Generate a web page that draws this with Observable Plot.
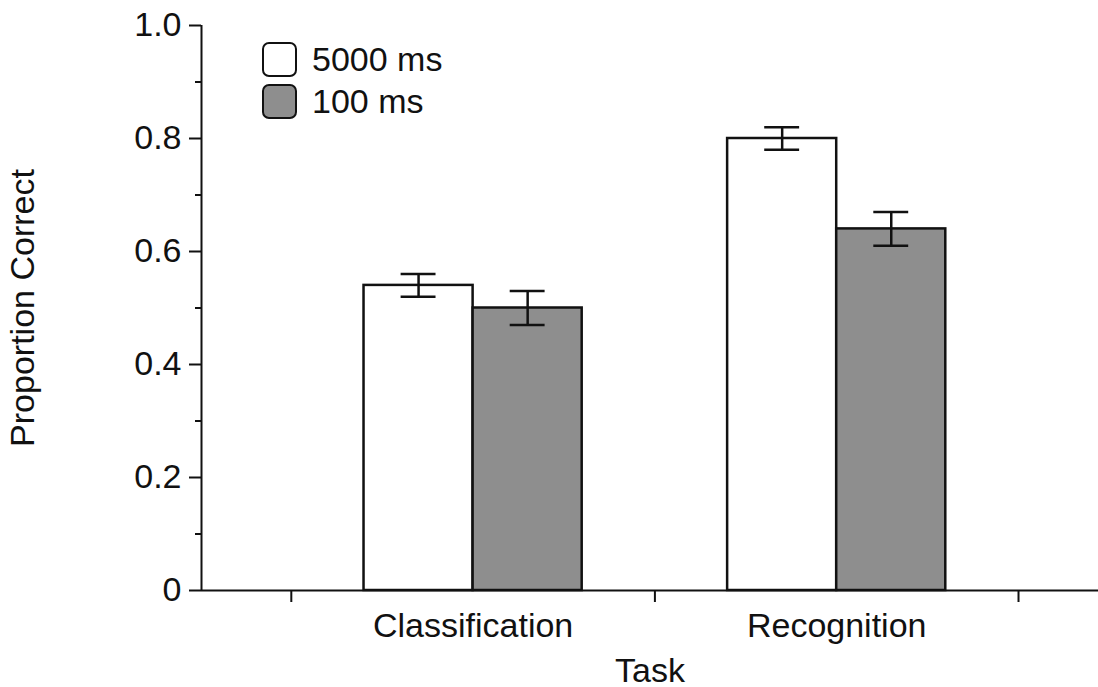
<!DOCTYPE html>
<html>
<head>
<meta charset="utf-8">
<script src="https://cdn.jsdelivr.net/npm/d3@7"></script>
<script src="https://cdn.jsdelivr.net/npm/@observablehq/plot@0.6"></script>
<style>
  html, body { margin: 0; padding: 0; background: #fff; }
  #chart { position: relative; width: 1098px; height: 687px; font-family: "Liberation Sans", Arial, Helvetica, sans-serif; }
  .legend { position: absolute; left: 262px; top: 38px; }
  .legend .item { display: flex; align-items: center; height: 42px; font-size: 34px; color: #111; }
  .legend .swatch { width: 31px; height: 31px; border: 2.5px solid #111; border-radius: 7px; margin-right: 15px; box-sizing: content-box; }
</style>
</head>
<body>
<div id="chart"></div>
<script>
// Task categories and the two presentation durations
const tasks = ["Classification", "Recognition"];
const conditions = ["5000 ms", "100 ms"];
const fills = ["#ffffff", "#8e8e8e"];

// Mean proportion correct per task, one array per duration
const means5000 = [0.54, 0.80];
const means100 = [0.50, 0.64];
// Error bar half-widths
const err5000 = [0.02, 0.02];
const err100 = [0.03, 0.03];

const yTicks = [0, 0.2, 0.4, 0.6, 0.8, 1.0];
const yMinorTicks = [0.1, 0.3, 0.5, 0.7, 0.9];

// Each task occupies one unit on a linear x scale; the two bars sit side by side in its middle.
const barWidth = 0.3;
const capHalf = 0.048;
const rows = [];
tasks.forEach((task, i) => {
  [[means5000, err5000], [means100, err100]].forEach(([m, e], j) => {
    const x1 = i + 0.5 - barWidth + j * barWidth;
    rows.push({
      task, condition: conditions[j], fill: fills[j],
      x1, x2: x1 + barWidth, xc: x1 + barWidth / 2,
      mean: m[i], lo: m[i] - e[i], hi: m[i] + e[i]
    });
  });
});

const ink = "#111";
const xMin = -0.247;

const plot = Plot.plot({
  width: 1098,
  height: 687,
  marginLeft: 201,
  marginRight: 0,
  marginTop: 25,
  marginBottom: 97,
  style: { fontFamily: "'Liberation Sans', Arial, Helvetica, sans-serif", fontSize: "34px", color: ink, background: "#fff", overflow: "visible" },
  x: { type: "linear", domain: [xMin, 2.22] },
  y: { domain: [0, 1] },
  marks: [
    // Bars
    Plot.rectY(rows, { x1: "x1", x2: "x2", y1: 0, y2: "mean", fill: "fill", stroke: ink, strokeWidth: 2.5 }),
    // Error bars: stem and caps
    Plot.ruleX(rows, { x: "xc", y1: "lo", y2: "hi", stroke: ink, strokeWidth: 2.5 }),
    Plot.ruleY(rows, { y: "hi", x1: d => d.xc - capHalf, x2: d => d.xc + capHalf, stroke: ink, strokeWidth: 2.5 }),
    Plot.ruleY(rows, { y: "lo", x1: d => d.xc - capHalf, x2: d => d.xc + capHalf, stroke: ink, strokeWidth: 2.5 }),
    // Axis lines
    Plot.ruleX([xMin], { y1: 0, y2: 1, stroke: ink, strokeWidth: 2 }),
    Plot.ruleY([0], { stroke: ink, strokeWidth: 2 }),
    // Y axis: labelled major ticks, then short minor ticks
    Plot.axisY({
      ticks: yTicks, tickSize: 12, tickPadding: 8, strokeWidth: 2, stroke: ink,
      tickFormat: d => d === 0 ? "0" : d.toFixed(1),
      label: "Proportion Correct", labelAnchor: "center", labelArrow: "none", labelOffset: 192
    }),
    Plot.axisY({ ticks: yMinorTicks, tickSize: 6, tickFormat: () => "", strokeWidth: 2, stroke: ink, label: null }),
    // X axis: boundary ticks without labels, task names centred in each unit
    Plot.axisX({ ticks: [0, 1, 2], tickSize: 12, tickFormat: () => "", strokeWidth: 2, stroke: ink, label: null }),
    Plot.axisX({
      ticks: [0.5, 1.5], tickSize: 0, tickPadding: 22,
      tickFormat: d => tasks[Math.floor(d)],
      label: "Task", labelAnchor: "center", labelArrow: "none", labelOffset: 91
    })
  ]
});

const chart = document.getElementById("chart");
chart.appendChild(plot);

// Legend for the two durations
const legend = document.createElement("div");
legend.className = "legend";
conditions.forEach((c, j) => {
  const item = document.createElement("div");
  item.className = "item";
  const sw = document.createElement("div");
  sw.className = "swatch";
  sw.style.background = fills[j];
  const label = document.createElement("span");
  label.textContent = c;
  item.appendChild(sw);
  item.appendChild(label);
  legend.appendChild(item);
});
chart.appendChild(legend);
</script>
</body>
</html>
